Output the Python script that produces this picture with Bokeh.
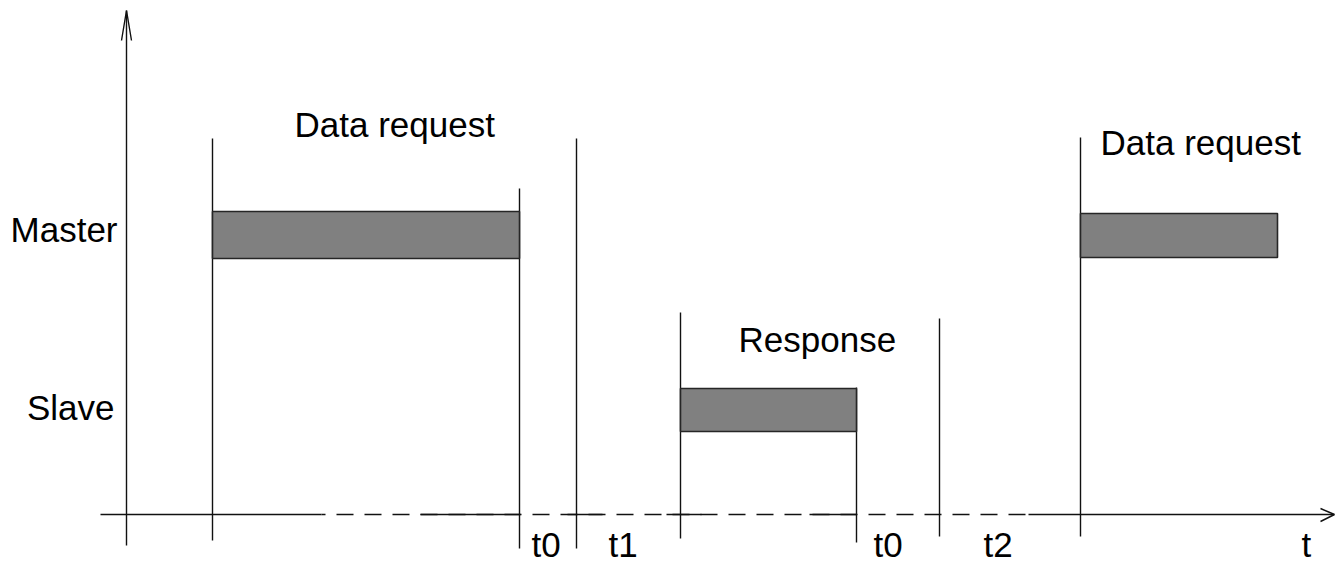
from bokeh.plotting import figure
from bokeh.models import Range1d, ColumnDataSource
from bokeh.core.properties import value
from bokeh.embed import file_html
from bokeh.resources import INLINE

# ---- data (time positions, in diagram units) ----
frame_labels = ["Data request", "Response", "Data request"]
frame_rows = ["Master", "Slave", "Master"]
frame_start = [212, 680, 1080]
frame_end = [519, 856, 1277]

marker_time = [212, 519, 576, 680, 856, 939, 1080]
marker_top = [138, 188, 138, 312, 387, 318, 137]
marker_bottom = [540, 548, 548, 538, 542, 536, 536]

gap_labels = ["t0", "t1", "t0", "t2"]
gap_label_x = [531, 608, 873, 983]

row_names = ["Master", "Slave"]

# ---- layout constants ----
bar_top = [211, 388, 213]
bar_bottom = [258, 431, 257]
FONT = value("Liberation Sans")
FS = "35px"
INK = "#111111"
DY = -13  # baseline correction for the SVG text renderer

p = figure(width=1341, height=563, x_range=Range1d(0, 1341), y_range=Range1d(563, 0),
           output_backend="svg", toolbar_location=None, min_border=0,
           x_axis_location=None, y_axis_location=None)
p.grid.visible = False
p.outline_line_color = None
p.background_fill_color = "white"

# axes
p.segment(x0=[126], y0=[545], x1=[126], y1=[10], line_color=INK, line_width=1.4)
p.multi_line(xs=[[121, 126, 131]], ys=[[40, 10, 40]], line_color=INK, line_width=1.4)
# time axis: dashed base with solid stretches
p.segment(x0=[321], y0=[514], x1=[1028], y1=[514], line_color=INK, line_width=1.4,
          line_dash="17 11", line_dash_offset=13)
solid_a = [100, 420, 567, 666, 809, 1028]
solid_b = [321, 520, 602, 701, 856, 1333]
p.segment(x0=solid_a, y0=[514]*6, x1=solid_b, y1=[514]*6, line_color=INK, line_width=1.4)
p.multi_line(xs=[[1320, 1334, 1320]], ys=[[508, 514, 521]], line_color=INK, line_width=1.4)

# event markers
p.segment(x0=marker_time, y0=marker_top, x1=marker_time, y1=marker_bottom,
          line_color=INK, line_width=1.4)

# frames
src = ColumnDataSource(dict(left=frame_start, right=frame_end, top=bar_top, bottom=bar_bottom))
p.quad(left="left", right="right", top="top", bottom="bottom", source=src,
       fill_color="#808080", line_color="#262626", line_width=1.6)

# frame labels
label_x = [294, 738, 1100]
label_y = [137 + DY, 352 + DY, 155 + DY]
p.text(x=label_x, y=label_y, text=frame_labels, text_font=FONT, text_font_size=FS,
       text_baseline="alphabetic", text_align="left", text_color="black")

# row labels
p.text(x=[117, 114], y=[242 + DY, 420 + DY], text=row_names, text_font=FONT, text_font_size=FS,
       text_baseline="alphabetic", text_align="right", text_color="black")

# gap labels
p.text(x=gap_label_x, y=[557 + DY]*4, text=gap_labels, text_font=FONT, text_font_size=FS,
       text_baseline="alphabetic", text_align="left", text_color="black")
p.text(x=[1301], y=[557 + DY], text=["t"], text_font=FONT, text_font_size=FS,
       text_baseline="alphabetic", text_align="left", text_color="black")

open("out.html", "w").write(file_html(p, INLINE))
